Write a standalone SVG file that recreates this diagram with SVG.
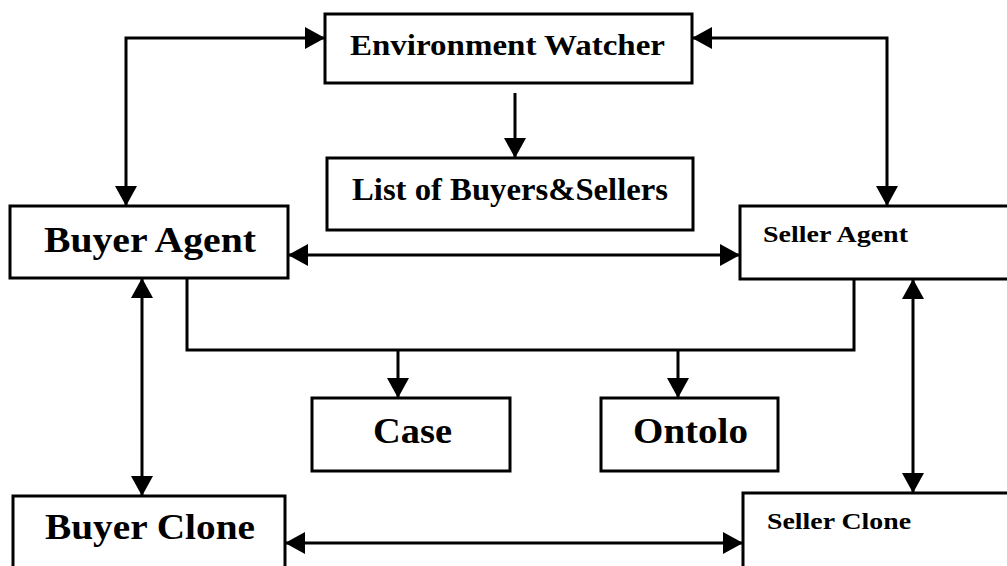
<svg xmlns="http://www.w3.org/2000/svg" width="1007" height="566" viewBox="0 0 1007 566">
<style>
.box{fill:#fff;stroke:#000;stroke-width:3}
.t{font-family:"Liberation Serif","Times New Roman",serif;font-weight:bold;fill:#000}
.c{fill:none;stroke:#000;stroke-width:3}
</style>
<defs>
<marker id="ah" markerUnits="userSpaceOnUse" markerWidth="22" markerHeight="22" viewBox="0 0 20 22" refX="20" refY="11" orient="auto-start-reverse">
<path d="M0,0 L20,11 L0,22 Z" fill="#000"/>
</marker>
</defs>
<rect width="1007" height="566" fill="#fff"/>
<g id="connectors">
<path class="c" d="M325,38 H126 V206" marker-start="url(#ah)" marker-end="url(#ah)"/>
<path class="c" d="M692,38 H887 V206" marker-start="url(#ah)" marker-end="url(#ah)"/>
<path class="c" d="M515,93 V158" marker-end="url(#ah)"/>
<path class="c" d="M288,255 H740" marker-start="url(#ah)" marker-end="url(#ah)"/>
<path class="c" d="M187,278 V350 H854 V279"/>
<path class="c" d="M398,350 V398" marker-end="url(#ah)"/>
<path class="c" d="M678,350 V398" marker-end="url(#ah)"/>
<path class="c" d="M142,278 V496" marker-start="url(#ah)" marker-end="url(#ah)"/>
<path class="c" d="M913,279 V493" marker-start="url(#ah)" marker-end="url(#ah)"/>
<path class="c" d="M285,543 H743" marker-start="url(#ah)" marker-end="url(#ah)"/>
</g>
<g id="env-watcher">
<rect class="box" x="325" y="14" width="367" height="69"/>
<text class="t" x="350" y="55" font-size="29" textLength="315" lengthAdjust="spacingAndGlyphs">Environment Watcher</text>
</g>
<g id="list">
<rect class="box" x="327" y="158" width="366" height="72"/>
<text class="t" x="352" y="200" font-size="31" textLength="316" lengthAdjust="spacingAndGlyphs">List of Buyers&amp;Sellers</text>
</g>
<g id="buyer-agent">
<rect class="box" x="10" y="206" width="278" height="72"/>
<text class="t" x="44" y="252" font-size="36" textLength="212" lengthAdjust="spacingAndGlyphs">Buyer Agent</text>
</g>
<g id="seller-agent">
<rect class="box" x="740" y="206" width="275" height="73"/>
<text class="t" x="763" y="242" font-size="24" textLength="145" lengthAdjust="spacingAndGlyphs">Seller Agent</text>
</g>
<g id="case">
<rect class="box" x="312" y="398" width="198" height="73"/>
<text class="t" x="373" y="443" font-size="36" textLength="79" lengthAdjust="spacingAndGlyphs">Case</text>
</g>
<g id="ontolo">
<rect class="box" x="601" y="398" width="177" height="73"/>
<text class="t" x="633" y="443" font-size="36" textLength="115" lengthAdjust="spacingAndGlyphs">Ontolo</text>
</g>
<g id="buyer-clone">
<rect class="box" x="13" y="496" width="272" height="80"/>
<text class="t" x="45" y="539" font-size="36" textLength="210" lengthAdjust="spacingAndGlyphs">Buyer Clone</text>
</g>
<g id="seller-clone">
<rect class="box" x="743" y="493" width="272" height="80"/>
<text class="t" x="767" y="529" font-size="23" textLength="144" lengthAdjust="spacingAndGlyphs">Seller Clone</text>
</g>
</svg>
